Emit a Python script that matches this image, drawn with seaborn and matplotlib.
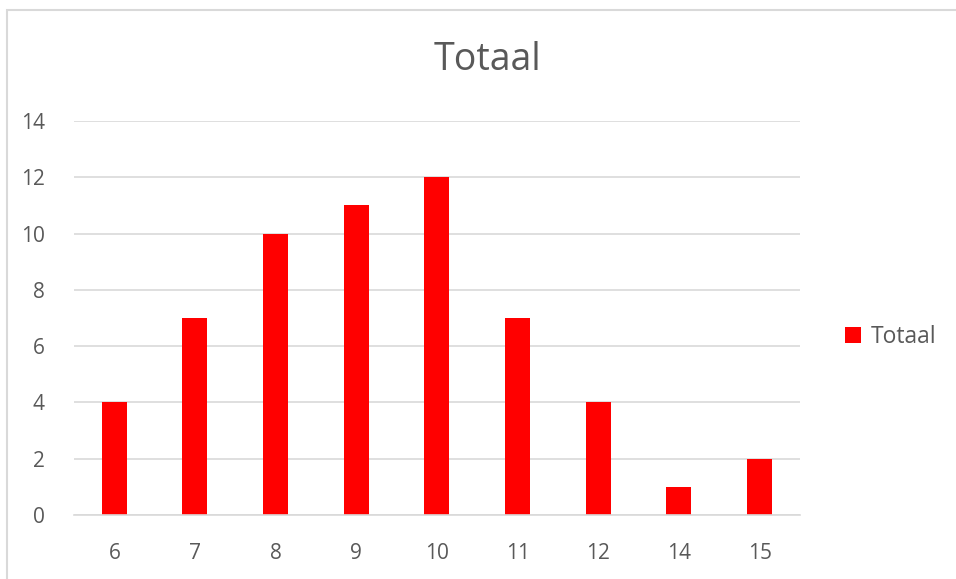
import matplotlib
matplotlib.use("Agg")
import matplotlib.pyplot as plt
import seaborn as sns
import pandas as pd
from matplotlib.patches import Rectangle

# Data
categories = ["6", "7", "8", "9", "10", "11", "12", "14", "15"]
totaal = [4, 7, 10, 11, 12, 7, 4, 1, 2]

df = pd.DataFrame({"categorie": categories, "Totaal": totaal})

sns.set_style("white")
plt.rcParams["font.family"] = ["Open Sans", "DejaVu Sans"]
text_color = "#595959"
grid_color = "#d9d9d9"

fig = plt.figure(figsize=(9.56, 5.79), dpi=100)
ax = fig.add_axes([0.0774, 0.1105, 0.7594, 0.6805])

sns.barplot(data=df, x="categorie", y="Totaal", order=categories,
            color="#ff0000", saturation=1, width=0.31, linewidth=0,
            ax=ax, label="Totaal")

ax.set_ylim(0, 14)
ax.set_xlim(-0.5, len(categories) - 0.5)
ax.set_yticks(range(0, 15, 2))
ax.yaxis.grid(True, color=grid_color, linewidth=1.2)
ax.set_axisbelow(True)
for side in ["top", "right", "left"]:
    ax.spines[side].set_visible(False)
ax.spines["bottom"].set_color(grid_color)
ax.spines["bottom"].set_linewidth(1.2)
ax.tick_params(axis="both", length=0, labelsize=15, colors=text_color)
ax.tick_params(axis="x", pad=20)
ax.tick_params(axis="y", pad=21)
ax.set_xlabel("")
ax.set_ylabel("")

fig.text(0.51, 0.897, "Totaal", ha="center", va="center", fontsize=27, color=text_color)

leg = ax.legend(loc="center left", bbox_to_anchor=(1.034, 0.452), frameon=False,
                fontsize=16.5, handlelength=0.7, handleheight=0.7, handletextpad=0.4)
for t in leg.get_texts():
    t.set_color(text_color)

# light chart border at top and left
fig.patches.append(Rectangle((7 / 956, -0.05), 1.2, 1.05 - 10 / 579,
                             transform=fig.transFigure, fill=False,
                             edgecolor=grid_color, linewidth=1.5))

fig.savefig("out.png", dpi=100)
